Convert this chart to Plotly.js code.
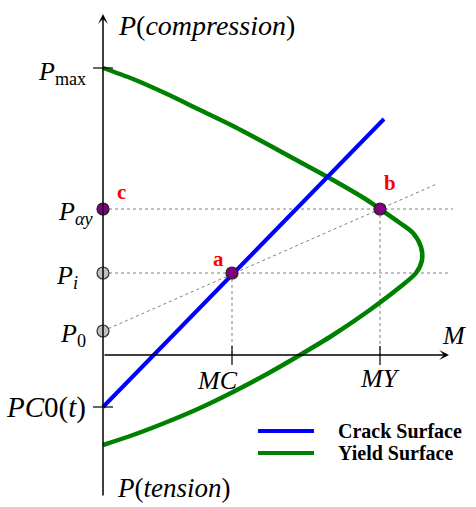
<!DOCTYPE html>
<html>
<head>
<meta charset="utf-8">
<script src="https://cdn.plot.ly/plotly-3.0.1.min.js"></script>
<style>html,body{margin:0;padding:0;background:#fff;}#chart{width:476px;height:507px;}</style>
</head>
<body>
<div id="chart"></div>
<script>
// ---- data (M horizontal, P vertical, arbitrary units) ----
const yieldM = [0, 0.30, 0.64, 0.97, 1.30, 1.64, 1.97, 2.30, 2.64, 2.77, 2.97, 3.10, 3.18, 3.19, 3.13,
                2.97, 2.64, 2.30, 1.97, 1.64, 1.30, 0.97, 0.64, 0.30, 0];
const yieldP = [2.87, 2.76, 2.61, 2.45, 2.29, 2.11, 1.93, 1.75, 1.55, 1.46, 1.32, 1.22, 1.08, 0.95, 0.82,
                0.68, 0.43, 0.20, 0.00, -0.19, -0.37, -0.53, -0.67, -0.80, -0.90];
const crackM = [0, 2.81];
const crackP = [-0.52, 2.36];
const pLevelNames = ['Pmax', 'Pay', 'Pi', 'P0', 'PC0'];
const pLevels = [2.87, 1.46, 0.82, 0.24, -0.52];
const mLevelNames = ['MC', 'MY'];
const mLevels = [1.29, 2.77];
const keyPointLabels = ['c', 'a', 'b'];
const keyPointM = [0, 1.29, 2.77];
const keyPointP = [1.46, 0.82, 1.46];
const axisPointM = [0, 0];
const axisPointP = [0.82, 0.24];
const radialEndM = 3.35;       // end of dotted ray from P0 through a and b
const levelLineEndM = [3.50, 3.46]; // dotted horizontal guides at Pay and Pi
const seriesNames = ['Crack Surface', 'Yield Surface'];
const seriesColors = ['#0000ff', '#008000'];

const P = {}; pLevelNames.forEach((n, i) => P[n] = pLevels[i]);
const M = {}; mLevelNames.forEach((n, i) => M[n] = mLevels[i]);

const dot = {color: '#808080', width: 1, dash: 'dot'};
const radialSlope = (keyPointP[2] - P.P0) / keyPointM[2];

const traces = [
  // dotted guides
  {x: [0, levelLineEndM[0]], y: [P.Pay, P.Pay], mode: 'lines', line: dot},
  {x: [0, levelLineEndM[1]], y: [P.Pi, P.Pi], mode: 'lines', line: dot},
  {x: [M.MC, M.MC], y: [P.Pi, 0], mode: 'lines', line: dot},
  {x: [M.MY, M.MY], y: [P.Pay, 0], mode: 'lines', line: dot},
  {x: [0, radialEndM], y: [P.P0, P.P0 + radialSlope * radialEndM], mode: 'lines', line: dot},
  // surfaces
  {x: yieldM, y: yieldP, mode: 'lines', name: seriesNames[1],
   line: {color: seriesColors[1], width: 4.5, shape: 'spline', smoothing: 0.8}},
  {x: crackM, y: crackP, mode: 'lines', name: seriesNames[0],
   line: {color: seriesColors[0], width: 4}},
  // points
  {x: axisPointM, y: axisPointP, mode: 'markers',
   marker: {size: 12, color: '#c0c0c0', line: {color: '#333', width: 1.2}}},
  {x: keyPointM, y: keyPointP, mode: 'markers',
   marker: {size: 12, color: '#800080', line: {color: '#222', width: 1.2}}}
];

const serif = 'Liberation Serif, Times New Roman, serif';
const ann = [];
// axes with arrows
ann.push({x: 0, y: 3.41, ax: 0, ay: -1.42, axref: 'x', ayref: 'y', xref: 'x', yref: 'y',
  text: '', showarrow: true, arrowhead: 3, arrowsize: 1.1, arrowwidth: 1.5, arrowcolor: '#000', standoff: 0});
ann.push({x: 3.46, y: 0, ax: 0, ay: 0, axref: 'x', ayref: 'y', xref: 'x', yref: 'y',
  text: '', showarrow: true, arrowhead: 3, arrowsize: 1.1, arrowwidth: 1.5, arrowcolor: '#000', standoff: 0});

const lab = (x, y, text, xanchor, size, extra) => Object.assign({
  x: x, y: y, xref: 'x', yref: 'y', text: text, showarrow: false, xanchor: xanchor, yanchor: 'middle',
  font: {family: serif, size: size, color: '#000'}}, extra || {});

ann.push(lab(0.13, 3.30, '<i>P</i>(<i>compression</i>)', 'left', 28));
ann.push(lab(0.12, -1.33, '<i>P</i>(<i>tension</i>)', 'left', 27));
ann.push(lab(3.51, 0.20, '<i>M</i>', 'center', 26));
ann.push(lab(-0.15, P.Pmax, '<i>P</i><sub>max</sub>', 'right', 26, {yshift: -5}));
ann.push(lab(-0.08, P.Pay, '<i>P</i><sub><i>αy</i></sub>', 'right', 26, {yshift: -4}));
ann.push(lab(-0.23, P.Pi, '<i>P</i><sub><i>i</i></sub>', 'right', 26, {yshift: -4}));
ann.push(lab(-0.15, P.P0, '<i>P</i><sub>0</sub>', 'right', 26, {yshift: -4}));
ann.push(lab(-0.15, P.PC0, '<i>PC</i>0(<i>t</i>)', 'right', 29));
ann.push(lab(M.MC - 0.15, -0.25, '<i>MC</i>', 'center', 26));
ann.push(lab(M.MY, -0.23, '<i>MY</i>', 'center', 26));
const labOff = [[0.18, 0.17], [-0.14, 0.14], [0.10, 0.26]];
keyPointLabels.forEach((t, i) => ann.push(lab(keyPointM[i] + labOff[i][0], keyPointP[i] + labOff[i][1],
  '<b>' + t + '</b>', 'center', 21, {font: {family: serif, size: 21, color: '#ff0000'}})));

// legend (manual)
const legY = [-0.76, -0.98];
seriesNames.forEach((n, i) => ann.push(lab(2.33, legY[i], '<b>' + n + '</b>', 'left', 20)));

const shapes = [];
// tick marks
[P.Pmax, P.PC0].forEach(v => shapes.push({type: 'line', xref: 'x', yref: 'y', x0: -0.10, x1: 0.10, y0: v, y1: v, line: {color: '#000', width: 1.2}}));
mLevels.forEach(v => shapes.push({type: 'line', xref: 'x', yref: 'y', x0: v, x1: v, y0: -0.10, y1: 0.09, line: {color: '#000', width: 1.2}}));
seriesColors.forEach((c, i) => shapes.push({type: 'line', xref: 'x', yref: 'y', x0: 1.55, x1: 2.11, y0: legY[i], y1: legY[i], line: {color: c, width: 4}}));

const layout = {
  width: 476, height: 507,
  margin: {l: 0, r: 0, t: 0, b: 0},
  paper_bgcolor: '#fff', plot_bgcolor: '#fff',
  showlegend: false,
  xaxis: {range: [-1.03, 3.73], visible: false, fixedrange: true},
  yaxis: {range: [-1.52, 3.55], visible: false, fixedrange: true},
  annotations: ann,
  shapes: shapes
};
Plotly.newPlot('chart', traces, layout, {displayModeBar: false, staticPlot: true});
</script>
</body>
</html>
